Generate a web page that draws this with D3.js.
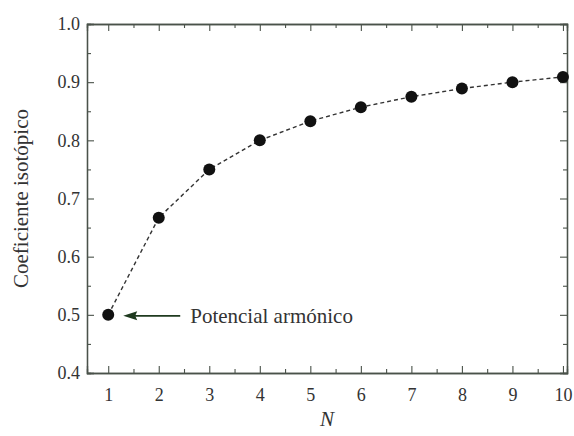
<!DOCTYPE html>
<html>
<head>
<meta charset="utf-8">
<style>
  body { margin: 0; background: #fff; }
  svg text { font-family: "Liberation Serif", "DejaVu Serif", serif; fill: #333; }
</style>
</head>
<body>
<div id="chart"></div>
<script src="https://cdn.jsdelivr.net/npm/d3@7"></script>
<script>
// data
var nValues = [1, 2, 3, 4, 5, 6, 7, 8, 9, 10];
var coef = [0.5, 0.667, 0.75, 0.8, 0.833, 0.857, 0.875, 0.889, 0.9, 0.909];
var xTicks = [1, 2, 3, 4, 5, 6, 7, 8, 9, 10];
var yTicks = [0.4, 0.5, 0.6, 0.7, 0.8, 0.9, 1.0];
var annotation = "Potencial armónico";

var W = 574, H = 436;
var m = { left: 87, right: 7, top: 24, bottom: 63 };
var axisColor = "#4a524a";

var svg = d3.select("#chart").append("svg")
  .attr("width", W).attr("height", H);

var x = d3.scaleLinear().domain([0.58, 10.08]).range([m.left, W - m.right]);
var y = d3.scaleLinear().domain([0.4, 1.0]).range([H - m.bottom, m.top]);

var g = svg.append("g");

// minor ticks
var xMinor = d3.range(1.5, 10, 1);
var yMinor = d3.range(0.45, 1.0, 0.1);

function drawAxis(axis, transform, showLabels) {
  var a = g.append("g").attr("transform", transform).call(axis);
  a.select(".domain").attr("stroke", axisColor).attr("stroke-width", 1.3);
  a.selectAll(".tick line").attr("stroke", axisColor).attr("stroke-width", 1.1);
  a.selectAll(".tick text").attr("font-size", 18).attr("fill", "#444")
    .style("display", showLabels ? null : "none");
  return a;
}

// bottom and top
drawAxis(d3.axisBottom(x).tickValues(xTicks).tickSize(-7).tickPadding(15).tickFormat(d3.format("d")),
  "translate(0," + (H - m.bottom) + ")", true);
drawAxis(d3.axisBottom(x).tickValues(xMinor).tickSize(-4), "translate(0," + (H - m.bottom) + ")", false);
drawAxis(d3.axisTop(x).tickValues(xTicks).tickSize(-7), "translate(0," + m.top + ")", false);
drawAxis(d3.axisTop(x).tickValues(xMinor).tickSize(-4), "translate(0," + m.top + ")", false);

// left and right
drawAxis(d3.axisLeft(y).tickValues(yTicks).tickSize(-7).tickPadding(7).tickFormat(d3.format(".1f")),
  "translate(" + m.left + ",0)", true);
drawAxis(d3.axisLeft(y).tickValues(yMinor).tickSize(-4), "translate(" + m.left + ",0)", false);
drawAxis(d3.axisRight(y).tickValues(yTicks).tickSize(-7), "translate(" + (W - m.right) + ",0)", false);
drawAxis(d3.axisRight(y).tickValues(yMinor).tickSize(-4), "translate(" + (W - m.right) + ",0)", false);

// dashed line
var pts = nValues.map(function(n, i){ return [n, coef[i]]; });
g.append("path")
  .datum(pts)
  .attr("fill", "none")
  .attr("stroke", "#333")
  .attr("stroke-width", 1.4)
  .attr("stroke-dasharray", "4,3")
  .attr("d", d3.line().x(function(d){ return x(d[0]); }).y(function(d){ return y(d[1]); }));

g.selectAll(".dot")
  .data(pts)
  .enter().append("circle")
  .attr("class", "dot")
  .attr("r", 6)
  .attr("cx", function(d){ return x(d[0]); })
  .attr("cy", function(d){ return y(d[1]); })
  .attr("fill", "#111");

// annotation arrow
var ax = x(nValues[0]), ay = y(coef[0]) + 1;
var arrowColor = "#1f3a1f";
g.append("line")
  .attr("x1", ax + 72).attr("y1", ay)
  .attr("x2", ax + 26).attr("y2", ay)
  .attr("stroke", arrowColor).attr("stroke-width", 1.8);
g.append("path")
  .attr("d", "M" + (ax + 15) + "," + ay + " L" + (ax + 29) + "," + (ay - 4.5) +
             " L" + (ax + 27) + "," + ay + " L" + (ax + 29) + "," + (ay + 4.5) + " Z")
  .attr("fill", arrowColor);

g.append("text")
  .attr("x", ax + 82).attr("y", ay + 7)
  .attr("font-size", 21).attr("fill", "#333")
  .text(annotation);

// axis titles
svg.append("text")
  .attr("transform", "translate(28," + ((m.top + H - m.bottom) / 2) + ") rotate(-90)")
  .attr("text-anchor", "middle")
  .attr("font-size", 21)
  .text("Coeficiente isotópico");

svg.append("text")
  .attr("x", 327).attr("y", H - 10)
  .attr("text-anchor", "middle")
  .attr("font-size", 21).attr("font-style", "italic")
  .text("N");
</script>
</body>
</html>
